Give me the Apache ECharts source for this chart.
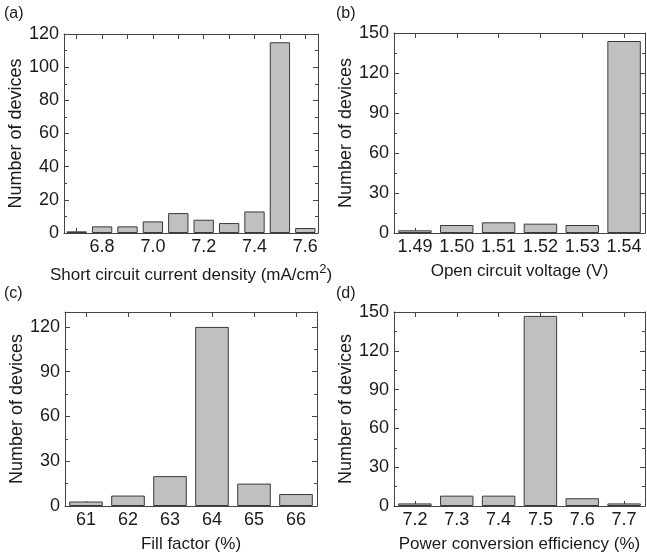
<!DOCTYPE html>
<html>
<head>
<meta charset="utf-8">
<script src="https://cdn.jsdelivr.net/npm/echarts@6/dist/echarts.min.js"></script>
<style>
  html, body { margin: 0; padding: 0; background: #fff; }
  #chart { width: 647px; height: 554px; }
</style>
</head>
<body>
<div id="chart"></div>
<script>
// histogram data
const jscBins = ['6.7', '6.8', '6.9', '7.0', '7.1', '7.2', '7.3', '7.4', '7.5', '7.6']
const jscCounts = [1, 4, 4, 7, 12, 8, 6, 13, 115, 3]
const vocBins = ['1.49', '1.50', '1.51', '1.52', '1.53', '1.54']
const vocCounts = [2, 6, 8, 7, 6, 144]
const ffBins = ['61', '62', '63', '64', '65', '66']
const ffCounts = [3, 7, 20, 120, 15, 8]
const pceBins = ['7.2', '7.3', '7.4', '7.5', '7.6', '7.7']
const pceCounts = [2, 8, 8, 147, 6, 2]

const font = 'Liberation Sans, Arial, sans-serif'
const ink = '#1a1a1a'
const frame = '#444'

let chart = echarts.init(document.getElementById('chart'))

let grids = [
    { left: 64, right: 329, top: 34, bottom: 321 },
    { left: 394, right: 2, top: 33, bottom: 321 },
    { left: 65, right: 330, top: 312, bottom: 41 },
    { left: 394, right: 2, top: 312, bottom: 41 }
]

let panels = [
    { bins: jscBins, counts: jscCounts, max: 120, step: 20, everyOther: true,
      name: '{t|Short circuit current density (mA/cm}{s|2}{t|)}' },
    { bins: vocBins, counts: vocCounts, max: 150, step: 30, name: 'Open circuit voltage (V)' },
    { bins: ffBins, counts: ffCounts, max: 130, step: 30, name: 'Fill factor (%)' },
    { bins: pceBins, counts: pceCounts, max: 150, step: 30, name: 'Power conversion efficiency (%)' }
]

let xAxis = []
let yAxis = []
let series = []

panels.forEach((p, i) => {
    let line = { show: true, onZero: false, lineStyle: { color: frame, width: 1 } }
    xAxis.push({
        type: 'category', gridIndex: i, data: p.bins, position: 'bottom',
        axisLine: line,
        axisTick: { show: true, inside: true, length: 5, alignWithLabel: true, interval: 0, lineStyle: { color: frame } },
        axisLabel: {
            color: ink, fontFamily: font, fontSize: 18, margin: 5,
            interval: p.everyOther ? (idx) => idx % 2 === 1 : 0
        },
        name: p.name, nameLocation: 'middle', nameGap: 30,
        nameTextStyle: {
            color: ink, fontFamily: font, fontSize: 17,
            rich: {
                t: { fontFamily: font, fontSize: 17, color: ink },
                s: { fontFamily: font, fontSize: 13, color: ink, verticalAlign: 'bottom', padding: [0, 0, 12, 0] }
            }
        }
    })
    xAxis.push({
        type: 'category', gridIndex: i, data: p.bins, position: 'top',
        axisLine: line,
        axisTick: { show: true, inside: true, length: 5, alignWithLabel: true, interval: 0, lineStyle: { color: frame } },
        axisLabel: { show: false }
    })
    yAxis.push({
        type: 'value', gridIndex: i, min: 0, max: p.max, interval: p.step, position: 'left',
        axisLine: line,
        axisTick: { show: true, inside: true, length: 5, lineStyle: { color: frame } },
        minorTick: { show: true, splitNumber: 2, length: 3, lineStyle: { color: frame } },
        splitLine: { show: false },
        axisLabel: {
            color: ink, fontFamily: font, fontSize: 18, margin: 5,
            formatter: (v) => (v % p.step === 0 ? v : '')
        },
        name: 'Number of devices', nameLocation: 'middle', nameGap: 37,
        nameTextStyle: { color: ink, fontFamily: font, fontSize: 18 }
    })
    yAxis.push({
        type: 'value', gridIndex: i, min: 0, max: p.max, interval: p.step, position: 'right',
        axisLine: line,
        axisTick: { show: true, inside: true, length: 5, lineStyle: { color: frame } },
        minorTick: { show: true, splitNumber: 2, length: 3, lineStyle: { color: frame } },
        splitLine: { show: false },
        axisLabel: { show: false }
    })
    series.push({
        type: 'bar', xAxisIndex: i * 2, yAxisIndex: i * 2, data: p.counts,
        barCategoryGap: '20%',
        itemStyle: { color: '#c0c0c0', borderColor: '#3a3a3a', borderWidth: 1 },
        animation: false
    })
})

let tags = [['(a)', 4, 6], ['(b)', 336, 6], ['(c)', 4, 286], ['(d)', 336, 286]]

let options = {
    backgroundColor: '#fff',
    animation: false,
    grid: grids,
    xAxis: xAxis,
    yAxis: yAxis,
    series: series,
    graphic: tags.map((t) => ({
        type: 'text', left: t[1], top: t[2],
        style: { text: t[0], fill: ink, font: '16px ' + font }
    }))
}
options && chart.setOption(options)
</script>
</body>
</html>
